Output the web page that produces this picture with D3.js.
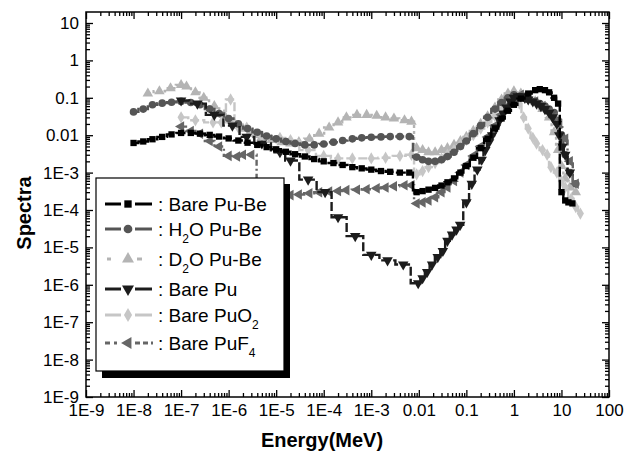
<!DOCTYPE html>
<html><head><meta charset="utf-8">
<script src="https://cdn.jsdelivr.net/npm/d3@7"></script>
<style>body{margin:0;background:#fff}svg{display:block}text{font-family:"Liberation Sans",Arial,sans-serif}</style>
</head><body>
<svg id="c" width="634" height="457"></svg>
<script>
// ---- data ----
const xTickLabels = ["1E-9","1E-8","1E-7","1E-6","1E-5","1E-4","1E-3","0.01","0.1","1","10","100"];
const yTickLabels = ["1E-9","1E-8","1E-7","1E-6","1E-5","1E-4","1E-3","0.01","0.1","1","10"];
const seriesNames = ["Bare Pu-Be","H2O Pu-Be","D2O Pu-Be","Bare Pu","Bare PuO2","Bare PuF4"];

const bareBeE = [1e-8,1.6e-8,2.5e-8,4e-8,6.3e-8,1e-7,1.6e-7,2.5e-7,4e-7,6.3e-7,1e-6,1.6e-6,2.5e-6,4e-6,6.3e-6,1e-5,1.6e-5,2.5e-5,4e-5,6.3e-5,1e-4,1.6e-4,2.5e-4,4e-4,6.3e-4,1e-3,1.6e-3,2.5e-3,4e-3,6.3e-3,
  0.009,0.012,0.016,0.022,0.03,0.04,0.055,0.075,0.1,0.14,0.2,0.28,0.4,0.55,0.75,1,1.4,2,2.8,3.5,4.5,5.5,7,8.5,10,12,14,17];
const bareBeV = [0.0062,0.0068,0.0078,0.009,0.0105,0.0115,0.0115,0.011,0.0102,0.0092,0.0082,0.0072,0.0063,0.0055,0.0048,0.0042,0.0036,0.0031,0.0027,0.0023,0.002,0.0018,0.0016,0.0014,0.0013,0.0012,0.0011,0.00105,0.001,0.001,
  3e-4,3.2e-4,3.5e-4,3.9e-4,4.5e-4,5.5e-4,7e-4,1e-3,1.5e-3,2.5e-3,4.5e-3,8e-3,0.015,0.028,0.045,0.065,0.095,0.13,0.16,0.17,0.16,0.14,0.1,0.07,3e-4,1.8e-4,1.6e-4,1.5e-4];

const h2oE = [1e-8,1.6e-8,2.5e-8,4e-8,6.3e-8,1e-7,1.6e-7,2.5e-7,4e-7,6.3e-7,1e-6,1.6e-6,2.5e-6,4e-6,6.3e-6,1e-5,1.6e-5,2.5e-5,4e-5,6.3e-5,1e-4,1.6e-4,2.5e-4,4e-4,6.3e-4,1e-3,1.6e-3,2.5e-3,4e-3,6.3e-3,
  0.009,0.012,0.016,0.022,0.03,0.04,0.055,0.075,0.1,0.14,0.2,0.28,0.4,0.55,0.75,1,1.4,2,2.8,3.5,4.5,5.5,7,8.5,10,12,15,20];
const h2oV = [0.042,0.05,0.065,0.072,0.076,0.08,0.075,0.065,0.05,0.038,0.028,0.02,0.015,0.012,0.0095,0.008,0.0068,0.006,0.0055,0.0055,0.0058,0.0065,0.0072,0.008,0.0085,0.0088,0.009,0.0092,0.0092,0.0092,
  0.0026,0.0022,0.002,0.002,0.0022,0.0027,0.0035,0.005,0.007,0.011,0.018,0.03,0.05,0.075,0.1,0.12,0.11,0.09,0.08,0.07,0.06,0.05,0.04,0.025,0.01,0.003,0.001,5e-4];

const d2oE = [2e-8,3.5e-8,6e-8,1e-7,1.3e-7,2e-7,3e-7,5e-7,8e-7,1.3e-6,2e-6,3e-6,5e-6,8e-6,1.3e-5,2e-5,3e-5,5e-5,8e-5,1.3e-4,2e-4,3e-4,5e-4,8e-4,1.3e-3,2e-3,3e-3,5e-3,7e-3,
  0.009,0.012,0.016,0.022,0.03,0.04,0.055,0.075,0.1,0.14,0.2,0.28,0.4,0.55,0.75,1,1.4,2,2.8,4,5.5,7,8.5,10,12,15,20];
const d2oV = [0.13,0.15,0.18,0.22,0.2,0.14,0.1,0.06,0.035,0.022,0.015,0.011,0.009,0.0075,0.0065,0.006,0.0065,0.008,0.011,0.016,0.022,0.03,0.035,0.035,0.033,0.03,0.028,0.025,0.023,
  0.0045,0.004,0.0035,0.0035,0.004,0.0045,0.0055,0.007,0.009,0.013,0.02,0.032,0.055,0.09,0.13,0.15,0.13,0.1,0.08,0.05,0.03,0.012,0.004,0.0015,7e-4,4e-4,3e-4];

const bareE = [1e-7,2.2e-7,5e-7,1.2e-6,2.4e-6,5e-6,1.2e-5,2e-5,4.7e-5,1.07e-4,2e-4,4.6e-4,1e-3,2.2e-3,4.7e-3,9.7e-3,0.012,0.015,0.019,0.025,0.032,0.04,0.05,0.062,0.074,0.1,0.13,0.17,0.21,0.25,0.3,0.35,0.42,0.5,0.6,0.7,0.85,1,1.2,1.4,1.7,2,2.5,3,3.7,4.5,5.5,6.5,8,9,10.5,12,15];
const bareV = [0.085,0.07,0.035,0.018,0.009,0.006,0.0035,0.0021,6.5e-4,3e-4,6.4e-5,2e-5,6.3e-6,4.5e-6,3.5e-6,1.1e-6,1.5e-6,2.2e-6,3.5e-6,5.5e-6,8e-6,1.5e-5,2.2e-5,3e-5,4e-5,1.6e-4,5e-4,1.2e-3,2.2e-3,4e-3,6.5e-3,0.01,0.016,0.025,0.038,0.055,0.08,0.1,0.11,0.11,0.1,0.09,0.08,0.07,0.06,0.05,0.04,0.03,0.02,0.01,0.005,0.003,0.001];

const puo2E = [1e-7,2e-7,4.7e-7,7e-7,1.1e-6,1.6e-6,2.4e-6,3.3e-6,5e-6,1.2e-5,2e-5,4.7e-5,1e-4,2e-4,4e-4,1e-3,2e-3,4e-3,7e-3,
  0.009,0.012,0.016,0.022,0.03,0.04,0.055,0.075,0.1,0.14,0.2,0.28,0.4,0.55,0.75,1,1.3,1.6,2,2.5,3,4,5,6,8,10,12,16,20,25];
const puo2V = [0.03,0.025,0.022,0.022,0.09,0.016,0.016,0.011,0.0095,0.0085,0.0074,0.004,0.0028,0.0024,0.0024,0.0024,0.0025,0.0028,0.003,
  9e-4,1.1e-3,1.4e-3,1.8e-3,2.4e-3,3e-3,4e-3,5.5e-3,7.5e-3,0.01,0.015,0.022,0.032,0.045,0.065,0.085,0.07,0.03,0.015,0.0085,0.006,0.004,0.003,0.0014,0.001,6e-4,4e-4,2e-4,1.2e-4,8e-5];

const puf4E = [1e-7,1.6e-7,2.5e-7,4e-7,6.3e-7,1e-6,1.5e-6,2e-6,3e-6,5e-6,8e-6,1.3e-5,2e-5,3e-5,5e-5,8e-5,1.3e-4,2e-4,3e-4,5e-4,8e-4,1.3e-3,2e-3,3e-3,5e-3,7e-3,
  0.009,0.012,0.016,0.022,0.03,0.04,0.055,0.075,0.1,0.14,0.2,0.28,0.4,0.55,0.75,1,1.4,2,2.8,4,5.5,7,9,12,15,20];
const puf4V = [0.017,0.013,0.011,0.007,0.005,0.0028,0.0027,0.003,0.003,2.2e-4,2.3e-4,2.4e-4,2.5e-4,2.6e-4,2.8e-4,3e-4,3.1e-4,3.2e-4,3.4e-4,3.5e-4,3.6e-4,3.8e-4,4e-4,4.3e-4,4.6e-4,4.6e-4,
  1.5e-4,1.6e-4,1.8e-4,2.2e-4,3e-4,4e-4,6e-4,1e-3,1.6e-3,2.8e-3,5e-3,9e-3,0.018,0.035,0.06,0.1,0.12,0.1,0.08,0.06,0.04,0.03,0.02,0.008,0.002,5e-4];

// ---- layout ----
const svg = d3.select("#c");
const L = 86, R = 609, T = 12, B = 397;
const x = d3.scaleLog().domain([1e-9, 100]).range([L, R]);
const y = d3.scaleLog().domain([1e-9, Math.pow(10, 1 + 11 / 37.4)]).range([B, T]);

const majorX = d3.range(-9, 3).map(p => Math.pow(10, p));
const majorY = d3.range(-9, 2).map(p => Math.pow(10, p));
function minors(lo, hi) { const r = []; for (let p = lo; p < hi; p++) for (let m = 2; m <= 9; m++) r.push(m * Math.pow(10, p)); return r; }
const minorX = minors(-9, 2);
const minorY = minors(-9, 2).filter(v => v < y.domain()[1]);

// frame
svg.append("rect").attr("x", L).attr("y", T).attr("width", R - L).attr("height", B - T)
  .attr("fill", "none").attr("stroke", "#000").attr("stroke-width", 1.5);

function ax(gen, tr, vals, size, labels) {
  const a = gen.tickValues(vals).tickSizeInner(size).tickSizeOuter(0);
  if (labels) a.tickFormat((d, i) => labels[i]).tickPadding(7); else a.tickFormat("");
  const g = svg.append("g").attr("transform", tr).call(a);
  g.select(".domain").remove();
  g.selectAll("line").attr("stroke", "#000").attr("stroke-width", 1.3);
  g.selectAll("text").attr("font-size", 17).attr("fill", "#000").style("font-family", "Liberation Sans, Arial, sans-serif");
  return g;
}
ax(d3.axisBottom(x), `translate(0,${B})`, majorX, -7, xTickLabels);
ax(d3.axisBottom(x), `translate(0,${B})`, minorX, -4);
ax(d3.axisTop(x), `translate(0,${T})`, majorX, -7);
ax(d3.axisTop(x), `translate(0,${T})`, minorX, -4);
ax(d3.axisLeft(y), `translate(${L},0)`, majorY, -7, yTickLabels);
ax(d3.axisLeft(y), `translate(${L},0)`, minorY, -4);
ax(d3.axisRight(y), `translate(${R},0)`, majorY, -7);
ax(d3.axisRight(y), `translate(${R},0)`, minorY, -4);

// titles
svg.append("text").attr("x", 322).attr("y", 447).attr("text-anchor", "middle")
  .attr("font-size", 20).attr("font-weight", "bold").text("Energy(MeV)");
svg.append("text").attr("transform", "translate(31,213) rotate(-90)").attr("text-anchor", "middle")
  .attr("font-size", 20).attr("font-weight", "bold").text("Spectra");

// series
const tri = d3.symbolTriangle;
const series = [
  { name: seriesNames[2], E: d2oE, V: d2oV, color: "#b4b4b4", dash: "3,3", sym: tri, rot: 0, size: 48, leg: [[107, 111], [137, 142]] },
  { name: seriesNames[4], E: puo2E, V: puo2V, color: "#c6c6c6", dash: "9,3", sym: d3.symbolDiamond, rot: 0, size: 44, leg: [[105, 121], [135, 152]] },
  { name: seriesNames[1], E: h2oE, V: h2oV, color: "#555555", dash: "9,3", sym: d3.symbolCircle, rot: 0, size: 46, leg: [[105, 121], [135, 152]] },
  { name: seriesNames[5], E: puf4E, V: puf4V, color: "#666666", dash: "6,3,2,3", sym: tri, rot: -90, size: 48, leg: [[105, 110], [114, 117], [135, 140], [143, 148], [151, 153]] },
  { name: seriesNames[3], E: bareE, V: bareV, color: "#1c1c1c", dash: "9,3", sym: tri, rot: 180, size: 48, leg: [[105, 121], [135, 152]] },
  { name: seriesNames[0], E: bareBeE, V: bareBeV, color: "#000000", dash: "10,3", sym: d3.symbolSquare, rot: 0, size: 40, leg: [[105, 121], [135, 152]] }
];
const line = d3.line().x(d => x(d[0])).y(d => y(d[1])).curve(d3.curveStep);
const plot = svg.append("g");
series.forEach(s => {
  const pts = s.E.map((e, i) => [e, s.V[i]]);
  plot.append("path").datum(pts).attr("d", line).attr("fill", "none")
    .attr("stroke", s.color).attr("stroke-width", 2.4).attr("stroke-dasharray", s.dash);
  plot.selectAll(null).data(pts).enter().append("path")
    .attr("d", d3.symbol().type(s.sym).size(s.size))
    .attr("transform", d => `translate(${x(d[0])},${y(d[1])}) rotate(${s.rot})`)
    .attr("fill", s.color);
});

// legend
const lg = svg.append("g");
lg.append("rect").attr("x", 102).attr("y", 184).attr("width", 188).attr("height", 194).attr("fill", "#000");
lg.append("rect").attr("x", 96).attr("y", 178).attr("width", 188).attr("height", 193)
  .attr("fill", "#fff").attr("stroke", "#000").attr("stroke-width", 1.2);
const legOrder = [
  { s: series[5], label: ["Bare Pu-Be"], yy: 204 },
  { s: series[2], label: ["H", "2", "O Pu-Be"], yy: 229 },
  { s: series[0], label: ["D", "2", "O Pu-Be"], yy: 259 },
  { s: series[4], label: ["Bare Pu"], yy: 289 },
  { s: series[1], label: ["Bare PuO", "2", ""], yy: 315 },
  { s: series[3], label: ["Bare PuF", "4", ""], yy: 343 }
];
legOrder.forEach(o => {
  const s = o.s;
  s.leg.forEach(seg => {
    lg.append("line").attr("x1", seg[0]).attr("x2", seg[1]).attr("y1", o.yy).attr("y2", o.yy)
      .attr("stroke", s.color).attr("stroke-width", 3);
  });
  lg.append("path").attr("d", d3.symbol().type(s.sym).size(s.size + 14)())
    .attr("transform", `translate(128,${o.yy}) rotate(${s.rot})`).attr("fill", s.color);
  const t = lg.append("text").attr("x", 158).attr("y", o.yy + 7).attr("font-size", 19).attr("fill", "#000");
  t.append("tspan").text(": " + o.label[0]);
  if (o.label.length > 1) {
    t.append("tspan").attr("font-size", 12).attr("dy", 7).text(o.label[1]);
    t.append("tspan").attr("dy", -7).text(o.label[2]);
  }
});
</script>
</body></html>
